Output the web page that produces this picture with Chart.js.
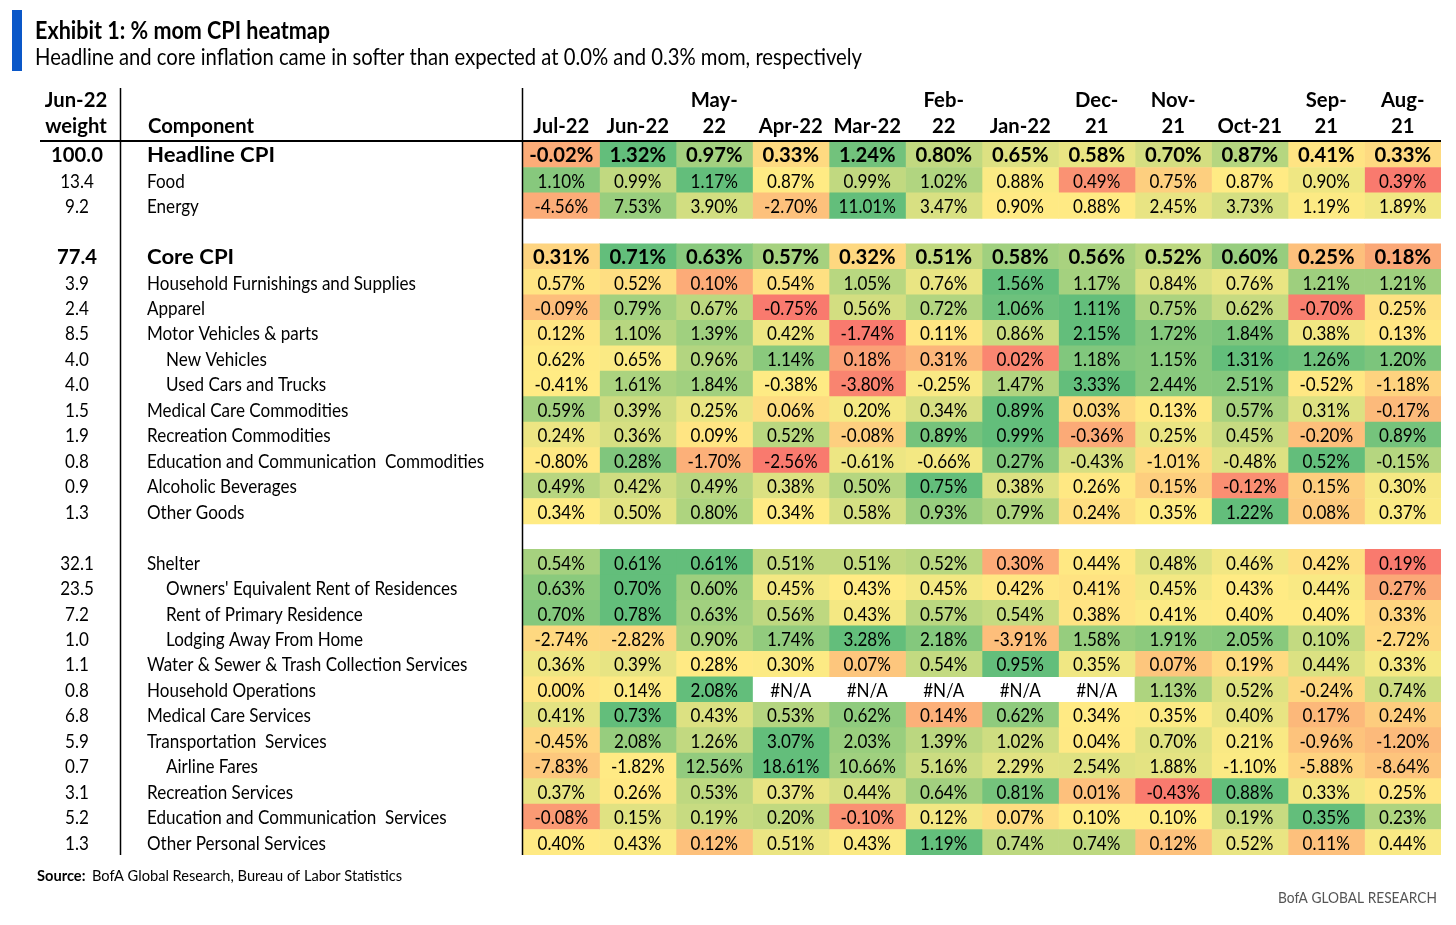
<!DOCTYPE html>
<html>
<head>
<meta charset="utf-8">
<script src="https://cdn.jsdelivr.net/npm/chart.js@4.4.0/dist/chart.umd.min.js"></script>
<style>
  html, body { margin: 0; padding: 0; background: #fff; }
  #wrap { width: 1456px; height: 925px; }
</style>
</head>
<body>
<div id="wrap"><canvas id="myChart" width="1456" height="925"></canvas></div>
<script>
// months, newest first
const months = ['Jul-22','Jun-22','May-22','Apr-22','Mar-22','Feb-22','Jan-22','Dec-21','Nov-21','Oct-21','Sep-21','Aug-21'];
const monthHeads = ['Jul-22','Jun-22','May-\n22','Apr-22','Mar-22','Feb-\n22','Jan-22','Dec-\n21','Nov-\n21','Oct-21','Sep-\n21','Aug-\n21'];

// null = blank spacer row
const components = [
  'Headline CPI','Food','Energy',
  null,
  'Core CPI','Household Furnishings and Supplies','Apparel','Motor Vehicles & parts','New Vehicles',
  'Used Cars and Trucks','Medical Care Commodities','Recreation Commodities',
  'Education and Communication  Commodities','Alcoholic Beverages','Other Goods',
  null,
  'Shelter',"Owners' Equivalent Rent of Residences",'Rent of Primary Residence','Lodging Away From Home',
  'Water & Sewer & Trash Collection Services','Household Operations','Medical Care Services',
  'Transportation  Services','Airline Fares','Recreation Services',
  'Education and Communication  Services','Other Personal Services'
];
const weights = ['100.0','13.4','9.2',null,'77.4','3.9','2.4','8.5','4.0','4.0','1.5','1.9','0.8','0.9','1.3',
  null,'32.1','23.5','7.2','1.0','1.1','0.8','6.8','5.9','0.7','3.1','5.2','1.3'];
const subItems = ['New Vehicles','Used Cars and Trucks',"Owners' Equivalent Rent of Residences",
  'Rent of Primary Residence','Lodging Away From Home','Airline Fares'];
const boldRows = ['Headline CPI','Core CPI'];

// % mom, null = #N/A
const values = [
  [-0.02, 1.32, 0.97, 0.33, 1.24, 0.80, 0.65, 0.58, 0.70, 0.87, 0.41, 0.33],
  [1.10, 0.99, 1.17, 0.87, 0.99, 1.02, 0.88, 0.49, 0.75, 0.87, 0.90, 0.39],
  [-4.56, 7.53, 3.90, -2.70, 11.01, 3.47, 0.90, 0.88, 2.45, 3.73, 1.19, 1.89],
  null,
  [0.31, 0.71, 0.63, 0.57, 0.32, 0.51, 0.58, 0.56, 0.52, 0.60, 0.25, 0.18],
  [0.57, 0.52, 0.10, 0.54, 1.05, 0.76, 1.56, 1.17, 0.84, 0.76, 1.21, 1.21],
  [-0.09, 0.79, 0.67, -0.75, 0.56, 0.72, 1.06, 1.11, 0.75, 0.62, -0.70, 0.25],
  [0.12, 1.10, 1.39, 0.42, -1.74, 0.11, 0.86, 2.15, 1.72, 1.84, 0.38, 0.13],
  [0.62, 0.65, 0.96, 1.14, 0.18, 0.31, 0.02, 1.18, 1.15, 1.31, 1.26, 1.20],
  [-0.41, 1.61, 1.84, -0.38, -3.80, -0.25, 1.47, 3.33, 2.44, 2.51, -0.52, -1.18],
  [0.59, 0.39, 0.25, 0.06, 0.20, 0.34, 0.89, 0.03, 0.13, 0.57, 0.31, -0.17],
  [0.24, 0.36, 0.09, 0.52, -0.08, 0.89, 0.99, -0.36, 0.25, 0.45, -0.20, 0.89],
  [-0.80, 0.28, -1.70, -2.56, -0.61, -0.66, 0.27, -0.43, -1.01, -0.48, 0.52, -0.15],
  [0.49, 0.42, 0.49, 0.38, 0.50, 0.75, 0.38, 0.26, 0.15, -0.12, 0.15, 0.30],
  [0.34, 0.50, 0.80, 0.34, 0.58, 0.93, 0.79, 0.24, 0.35, 1.22, 0.08, 0.37],
  null,
  [0.54, 0.61, 0.61, 0.51, 0.51, 0.52, 0.30, 0.44, 0.48, 0.46, 0.42, 0.19],
  [0.63, 0.70, 0.60, 0.45, 0.43, 0.45, 0.42, 0.41, 0.45, 0.43, 0.44, 0.27],
  [0.70, 0.78, 0.63, 0.56, 0.43, 0.57, 0.54, 0.38, 0.41, 0.40, 0.40, 0.33],
  [-2.74, -2.82, 0.90, 1.74, 3.28, 2.18, -3.91, 1.58, 1.91, 2.05, 0.10, -2.72],
  [0.36, 0.39, 0.28, 0.30, 0.07, 0.54, 0.95, 0.35, 0.07, 0.19, 0.44, 0.33],
  [0.00, 0.14, 2.08, null, null, null, null, null, 1.13, 0.52, -0.24, 0.74],
  [0.41, 0.73, 0.43, 0.53, 0.62, 0.14, 0.62, 0.34, 0.35, 0.40, 0.17, 0.24],
  [-0.45, 2.08, 1.26, 3.07, 2.03, 1.39, 1.02, 0.04, 0.70, 0.21, -0.96, -1.20],
  [-7.83, -1.82, 12.56, 18.61, 10.66, 5.16, 2.29, 2.54, 1.88, -1.10, -5.88, -8.64],
  [0.37, 0.26, 0.53, 0.37, 0.44, 0.64, 0.81, 0.01, -0.43, 0.88, 0.33, 0.25],
  [-0.08, 0.15, 0.19, 0.20, -0.10, 0.12, 0.07, 0.10, 0.10, 0.19, 0.35, 0.23],
  [0.40, 0.43, 0.12, 0.51, 0.43, 1.19, 0.74, 0.74, 0.12, 0.52, 0.11, 0.44]
];

const FONT = "Lato, 'Open Sans', sans-serif";

// 3 colour scale per row, centre at the lower third, stretched low end
const RED = [248, 105, 107], YEL = [255, 235, 132], GRN = [99, 190, 123];
function mix(a, b, t) {
  t = Math.max(0, Math.min(1, t));
  return 'rgb(' + a.map((v, k) => Math.round(v + (b[k] - v) * t)).join(',') + ')';
}
function quantile(s, q) {
  const p = (s.length - 1) * q, lo = Math.floor(p), hi = Math.ceil(p);
  return s[lo] + (s[hi] - s[lo]) * (p - lo);
}
function cellColor(v, row) {
  const s = row.filter(x => x != null).sort((a, b) => a - b);
  const min = s[0], max = s[s.length - 1];
  const mid = quantile(s, 0.3);
  const up = max - mid;
  const down = Math.max(mid - min, up) * 1.15;
  if (v <= mid) return mix(RED, YEL, 1 - (mid - v) / down);
  return mix(YEL, GRN, up ? (v - mid) / up : 0);
}

const datasets = months.map((mo, i) => ({
  label: mo,
  data: values.map(r => (r && r[i] != null) ? [i, i + 1] : null),
  backgroundColor: values.map(r => (r && r[i] != null) ? cellColor(r[i], r) : 'rgba(0,0,0,0)'),
  borderWidth: 0,
  barPercentage: 1,
  categoryPercentage: 1,
  grouped: false
}));

// draw text squeezed horizontally (the original face is a condensed one)
function txt(ctx, s, x, y, align, font, sx) {
  ctx.font = font;
  ctx.textAlign = align;
  ctx.save();
  ctx.translate(x, y);
  ctx.scale(sx, 1);
  ctx.fillText(s, 0, 0);
  ctx.restore();
}
function fitScale(ctx, s, font, w) {
  ctx.font = font;
  return w / ctx.measureText(s).width;
}

const tablePlugin = {
  id: 'table',
  afterDatasetsDraw(chart) {
    const { ctx, scales: { x, y }, chartArea } = chart;
    ctx.save();
    ctx.textBaseline = 'middle';
    ctx.fillStyle = '#000';

    const F = '20px ' + FONT, FB = 'bold 20px ' + FONT;
    const sx = fitScale(ctx, 'Household Furnishings and Supplies', F, 269);
    const sxb = fitScale(ctx, 'Component', FB, 106);
    const sxr = fitScale(ctx, 'Headline CPI', FB, 128);

    // cell values
    values.forEach((r, ri) => {
      if (!r) return;
      const bold = boldRows.includes(components[ri]);
      const yc = y.getPixelForValue(ri) + 1;
      r.forEach((v, i) => {
        const xc = x.getPixelForValue(i + 0.5);
        txt(ctx, v == null ? '#N/A' : v.toFixed(2) + '%', xc, yc, 'center', bold ? FB : F, bold ? sxb : sx);
      });
    });

    // left columns
    components.forEach((c, ri) => {
      if (!c) return;
      const yc = y.getPixelForValue(ri) + 1;
      const bold = boldRows.includes(c);
      txt(ctx, weights[ri], 77, yc, 'center', bold ? FB : F, bold ? sxb : sx);
      txt(ctx, c, subItems.includes(c) ? 166 : 147, yc, 'left', bold ? FB : F, bold ? sxr : sx);
    });

    // header
    txt(ctx, 'Jun-22', 76, 101, 'center', FB, sxb);
    txt(ctx, 'weight', 76, 127, 'center', FB, sxb);
    txt(ctx, 'Component', 148, 127, 'left', FB, sxb);
    monthHeads.forEach((h, i) => {
      const xc = x.getPixelForValue(i + 0.5);
      const parts = h.split('\n');
      if (parts.length === 2) {
        txt(ctx, parts[0], xc, 101, 'center', FB, sxb);
        txt(ctx, parts[1], xc, 127, 'center', FB, sxb);
      } else {
        txt(ctx, h, xc, 127, 'center', FB, sxb);
      }
    });

    // rules
    ctx.strokeStyle = '#000';
    ctx.lineWidth = 2;
    ctx.beginPath();
    ctx.moveTo(40, 141); ctx.lineTo(chartArea.right, 141);
    ctx.stroke();
    ctx.lineWidth = 1.5;
    ctx.beginPath();
    ctx.moveTo(120.5, 88); ctx.lineTo(120.5, chartArea.bottom);
    ctx.moveTo(chartArea.left - 0.5, 88); ctx.lineTo(chartArea.left - 0.5, chartArea.bottom);
    ctx.stroke();

    // title block
    ctx.fillStyle = '#0a57c8';
    ctx.fillRect(12, 10, 10, 61);
    ctx.fillStyle = '#000';
    const t1 = 'Exhibit 1: % mom CPI heatmap';
    const t2 = 'Headline and core inflation came in softer than expected at 0.0% and 0.3% mom, respectively';
    txt(ctx, t1, 35, 31, 'left', 'bold 24px ' + FONT, fitScale(ctx, t1, 'bold 24px ' + FONT, 295));
    txt(ctx, t2, 35, 58, 'left', '23px ' + FONT, fitScale(ctx, t2, '23px ' + FONT, 827));

    // footer
    const fs = fitScale(ctx, 'BofA Global Research, Bureau of Labor Statistics', '15px ' + FONT, 310);
    txt(ctx, 'Source:', 37, 876, 'left', 'bold 15px ' + FONT, fs);
    txt(ctx, 'BofA Global Research, Bureau of Labor Statistics', 92, 876, 'left', '15px ' + FONT, fs);
    ctx.fillStyle = '#555';
    txt(ctx, 'BofA GLOBAL RESEARCH', 1437, 898, 'right', '15px ' + FONT,
      fitScale(ctx, 'BofA GLOBAL RESEARCH', '15px ' + FONT, 159));
    ctx.restore();
  }
};

const ctx = document.getElementById('myChart');
new Chart(ctx, {
  type: 'bar',
  data: { labels: components.map(c => c || ''), datasets: datasets },
  options: {
    indexAxis: 'y',
    responsive: false,
    animation: false,
    layout: { padding: { left: 523, right: 15, top: 142, bottom: 70 } },
    scales: {
      x: { type: 'linear', min: 0, max: 12, display: false },
      y: { type: 'category', display: false }
    },
    plugins: { legend: { display: false }, tooltip: { enabled: false }, title: { display: false } }
  },
  plugins: [tablePlugin]
});
</script>
</body>
</html>
